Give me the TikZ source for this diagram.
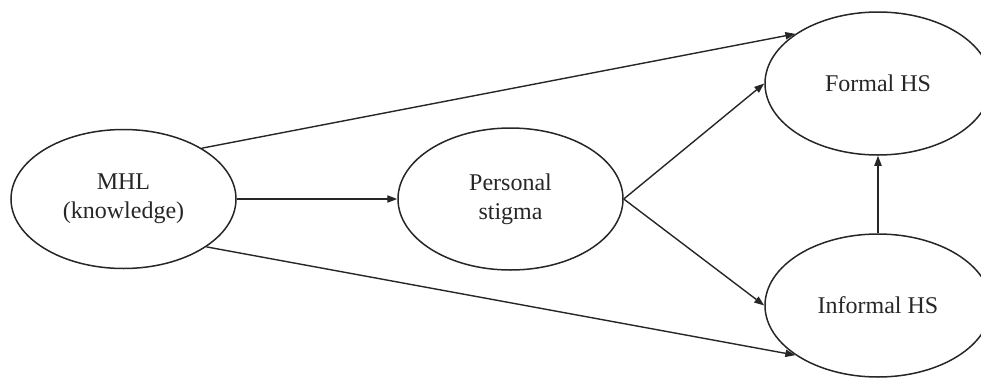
\documentclass[tikz,border=0pt]{standalone}
\usepackage{fontspec}
\setmainfont{Liberation Serif}
\usetikzlibrary{shapes.geometric,arrows.meta}
\begin{document}
\begin{tikzpicture}[x=0.5pt,y=-0.5pt,
  var/.style={draw=black!85,line width=0.75pt,ellipse,inner sep=0pt,align=center,
    font=\fontsize{12}{14.5}\selectfont,text=black!85},
  link/.style={draw=black!85,line width=0.7pt,-{Triangle[length=5pt,width=3.6pt]}}]
\useasboundingbox (0,0) rectangle (981,381);
% latent constructs
\node[var,minimum width=112.5pt,minimum height=69.5pt] (mhl) at (123.5,199) {MHL\\(knowledge)};
\node[var,minimum width=112.5pt,minimum height=71pt] (stigma) at (510.5,199) {Personal\\stigma};
\node[var,minimum width=113pt,minimum height=71.5pt] (formal) at (878,83.5) {Formal HS};
\node[var,minimum width=113pt,minimum height=71.5pt] (informal) at (878,305.5) {Informal HS};
% paths
\draw[link] (mhl.east) -- (stigma.west);
\draw[link] (stigma.east) -- (formal.west);
\draw[link] (stigma.east) -- (informal.west);
\draw[link] (mhl.33.7) -- (formal.149.7);
\draw[link] (mhl.-30.5) -- (informal.211.4);
\draw[link] (informal.north) -- (formal.south);
\end{tikzpicture}
\end{document}
